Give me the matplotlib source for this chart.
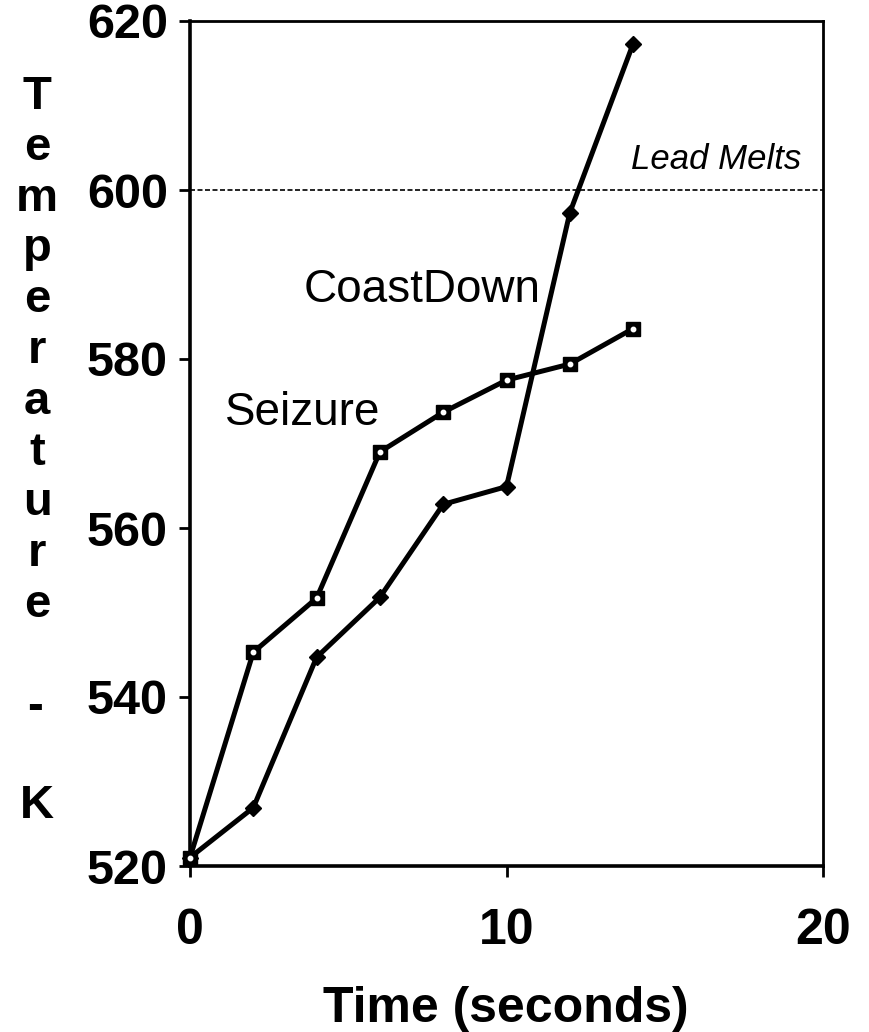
import matplotlib
matplotlib.use("Agg")
import matplotlib.pyplot as plt

# time (s) and temperature (K) for the two transients
time_s = [0, 2, 4, 6, 8, 10, 12, 14]
seizure_k = [521, 545.3, 551.7, 569.0, 573.7, 577.5, 579.4, 583.6]
coastdown_k = [521, 526.9, 544.7, 551.8, 562.8, 564.9, 597.3, 617.3]
lead_melt_k = 600

x_ticks = [0, 10, 20]
y_ticks = [520, 540, 560, 580, 600, 620]

FONT = ["Liberation Sans", "DejaVu Sans"]

W, H = 869, 1032
fig = plt.figure(figsize=(W / 100, H / 100), dpi=100)
ax = fig.add_axes([190 / W, 1 - 866 / H, (823 - 190) / W, (866 - 21) / H])

ax.axhline(lead_melt_k, color="black", lw=1.2, dashes=(3, 1.5), zorder=1)

ax.plot(time_s, coastdown_k, color="black", lw=3.6, marker="D", ms=8,
        mfc="black", mec="black", zorder=3, clip_on=False)
ax.plot(time_s, seizure_k, color="black", lw=3.6, marker="s", ms=9.5,
        mfc="black", mec="black", zorder=3, clip_on=False)
ax.plot(time_s, seizure_k, ls="none", marker="o", ms=3.2, mfc="white",
        mec="white", zorder=4, clip_on=False)

ax.set_xlim(0, 20)
ax.set_ylim(520, 620)
ax.set_xticks(x_ticks)
ax.set_yticks(y_ticks)

for s in ax.spines.values():
    s.set_linewidth(2.0)
ax.spines["left"].set_linewidth(2.6)
ax.spines["bottom"].set_linewidth(2.6)

ax.tick_params(axis="both", direction="out", length=8, width=2.0, color="black")
ax.tick_params(axis="y", pad=8)
ax.tick_params(axis="x", pad=22)
for lab in ax.get_yticklabels():
    lab.set_fontfamily(FONT)
    lab.set_fontweight("bold")
    lab.set_fontsize(35)
for lab in ax.get_xticklabels():
    lab.set_fontfamily(FONT)
    lab.set_fontweight("bold")
    lab.set_fontsize(36)

ax.text(3.6, 588.2, "CoastDown", fontsize=33, va="center", ha="left", family=FONT)
ax.text(1.1, 573.6, "Seizure", fontsize=33, va="center", ha="left", family=FONT)
ax.text(19.3, 603.6, "Lead Melts", fontsize=25, style="italic", va="center",
        ha="right", family=FONT)

fig.text(506 / W, 1 - 1022 / H, "Time (seconds)", fontsize=36, fontweight="bold",
         ha="center", va="baseline", family=FONT)

# vertical stacked y-axis title
letters = list("Temperature")
top, bottom = 97, 605
step = (bottom - top) / (len(letters) - 1)
for i, ch in enumerate(letters):
    fig.text(37 / W, 1 - (top + i * step) / H, ch, fontsize=34, fontweight="bold",
             ha="center", va="center", family=FONT)
fig.text(35 / W, 1 - 707 / H, "-", fontsize=34, fontweight="bold",
         ha="center", va="center", family=FONT)
fig.text(37 / W, 1 - 806 / H, "K", fontsize=34, fontweight="bold",
         ha="center", va="center", family=FONT)

fig.savefig("out.png", dpi=100)
